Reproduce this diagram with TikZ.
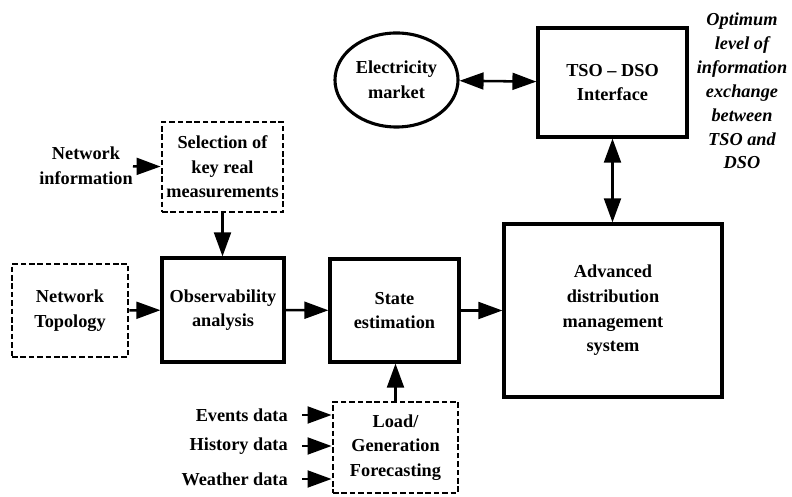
\documentclass[tikz,border=0pt]{standalone}
\usepackage{fontspec}
\setmainfont{Liberation Serif}
\usetikzlibrary{shapes, arrows.meta, positioning}

\begin{document}
\begin{tikzpicture}[
  x=0.025cm, y=-0.025cm,
  blk/.style={draw, line width=2.2pt, align=center, inner sep=2pt,
              font=\fontsize{13}{17.5}\selectfont\bfseries},
  dblk/.style={blk, line width=2pt, dash pattern=on 0.14cm off 0.07cm},
  lbl/.style={align=center, inner sep=0pt, font=\fontsize{13}{17.5}\selectfont\bfseries},
  arr/.style={-{Triangle[length=0.6cm, width=0.42cm]}, line width=1.8pt},
  darr/.style={{Triangle[length=0.6cm, width=0.42cm]}-{Triangle[length=0.6cm, width=0.42cm]}, line width=1.8pt},
]
\useasboundingbox (0,0) rectangle (792,497);

% Main flow
\node[dblk, minimum width=2.9cm, minimum height=2.325cm] (topo) at (70, 310.5) {Network\\Topology};
\node[blk, minimum width=3.05cm, minimum height=2.6cm] (obs) at (223, 310) {Observability\\analysis};
\node[blk, minimum width=3.225cm, minimum height=2.575cm] (state) at (394.5, 310.5) {State\\estimation};
\node[blk, minimum width=5.45cm, minimum height=4.325cm] (adms) at (613, 310.5) {Advanced\\distribution\\management\\system};

\draw[arr] (topo) -- (obs);
\draw[arr] (obs) -- (state);
\draw[arr] (state) -- (adms);

% Measurement selection
\node[dblk, minimum width=3.025cm, minimum height=2.25cm] (sel) at (222.5, 167) {Selection of\\key real\\measurements};
\node[lbl] (netinfo) at (86, 166) {Network\\information};
\draw[arr] (netinfo) -- (sel);
\draw[arr] (sel.south) -- (sel.south |- obs.north);

% Forecasting inputs
\node[dblk, minimum width=3.125cm, minimum height=2.275cm] (load) at (395.5, 447.5) {Load/\\Generation\\Forecasting};
\node[lbl, anchor=east, inner xsep=0.35cm] (events) at (302, 415) {Events data};
\node[lbl, anchor=east, inner xsep=0.35cm] (history) at (302, 446) {History data};
\node[lbl, anchor=east, inner xsep=0.35cm] (weather) at (302, 479) {Weather data};
\draw[arr] (events) -- (events -| load.west);
\draw[arr] (history) -- (history -| load.west);
\draw[arr] (weather) -- (weather -| load.west);
\draw[arr] (load.north) -- (load.north |- state.south);

% TSO side
\node[blk, minimum width=3.725cm, minimum height=2.725cm] (tso) at (612.5, 82.5) {TSO -- DSO\\Interface};
\node[blk, ellipse, minimum width=3.075cm, minimum height=2.35cm, inner sep=0pt] (market) at (396.5, 80) {Electricity\\market};
\draw[darr] (market) -- (tso);
\draw[darr] (tso.south) -- (tso.south |- adms.north);

\node[lbl, font=\fontsize{13}{17}\selectfont\bfseries\itshape] (note) at (742, 91)
{Optimum\\level of\\information\\exchange\\between\\TSO and\\DSO};
\end{tikzpicture}
\end{document}
